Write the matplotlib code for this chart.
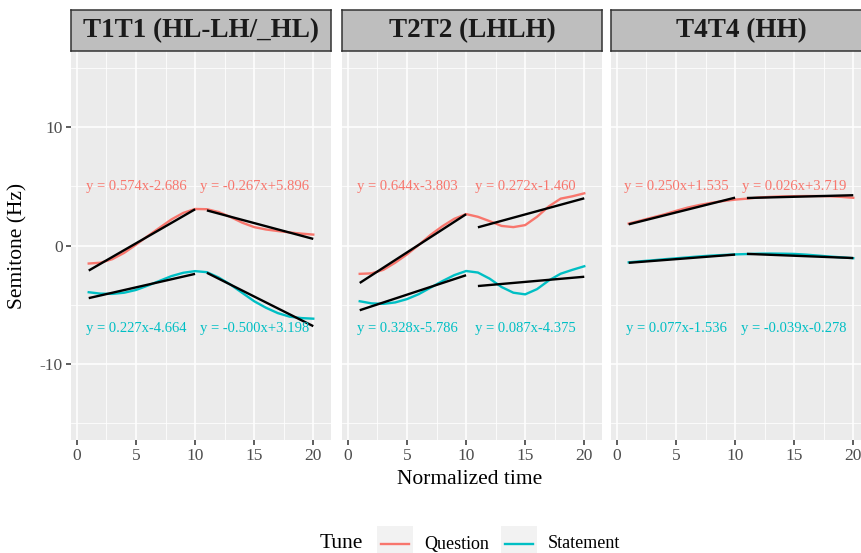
import numpy as np
import matplotlib
matplotlib.use("Agg")
import matplotlib.pyplot as plt
from matplotlib.patches import Rectangle
from matplotlib.lines import Line2D

plt.rcParams['font.family'] = ['Liberation Serif', 'DejaVu Serif']
plt.rcParams['axes.unicode_minus'] = False

# dati
panel_titles = ['T1T1 (HL-LH/_HL)', 'T2T2 (LHLH)', 'T4T4 (HH)']
time = np.arange(1, 21)

question_t1 = [-1.52, -1.45, -1.15, -0.62, 0.07, 0.80, 1.50, 2.20, 2.75, 3.08,
               3.06, 2.82, 2.40, 1.92, 1.55, 1.35, 1.22, 1.10, 1.00, 0.92]
statement_t1 = [-3.94, -4.06, -4.08, -3.98, -3.75, -3.38, -2.98, -2.58, -2.30, -2.16,
                -2.25, -2.70, -3.30, -4.00, -4.70, -5.25, -5.70, -6.00, -6.12, -6.17]
question_t2 = [-2.39, -2.35, -2.05, -1.45, -0.75, 0.05, 0.90, 1.63, 2.25, 2.65,
               2.42, 2.05, 1.65, 1.55, 1.72, 2.42, 3.30, 3.95, 4.15, 4.40]
statement_t2 = [-4.70, -4.88, -4.92, -4.80, -4.52, -4.10, -3.55, -3.00, -2.50, -2.15,
                -2.28, -2.80, -3.50, -3.98, -4.12, -3.68, -2.95, -2.38, -2.05, -1.75]
question_t4 = [1.85, 2.10, 2.36, 2.62, 2.92, 3.20, 3.42, 3.60, 3.75, 3.87,
               3.95, 4.05, 4.10, 4.14, 4.16, 4.17, 4.17, 4.15, 4.10, 4.02]
statement_t4 = [-1.42, -1.33, -1.25, -1.16, -1.08, -1.00, -0.92, -0.85, -0.80, -0.75,
                -0.72, -0.69, -0.68, -0.69, -0.71, -0.77, -0.85, -0.93, -1.00, -1.07]

question_curves = [question_t1, question_t2, question_t4]
statement_curves = [statement_t1, statement_t2, statement_t4]

# coefficienti (pendenza, intercetta) per i due segmenti
question_fit = [[(0.574, -2.686), (-0.267, 5.896)],
                [(0.644, -3.803), (0.272, -1.460)],
                [(0.250, 1.535), (0.026, 3.719)]]
statement_fit = [[(0.227, -4.664), (-0.500, 3.198)],
                 [(0.328, -5.786), (0.087, -4.375)],
                 [(0.077, -1.536), (-0.039, -0.278)]]
segments = [(1, 10), (11, 20)]
label_x = [5, 15]
question_label_y = 5
statement_label_y = -7

RED = '#F8766D'
CYAN = '#00BFC4'
LW = 1.7

W, H = 861, 553
fig = plt.figure(figsize=(W / 100, H / 100), dpi=100)

panel_left = [71, 342, 611]
panel_w = 260
top, bottom = 51, 440

for i in range(3):
    ax = fig.add_axes([panel_left[i] / W, 1 - bottom / H, panel_w / W, (bottom - top) / H])
    ax.set_facecolor('#EBEBEB')
    for s in ax.spines.values():
        s.set_visible(False)
    ax.set_xlim(-0.5, 21.5)
    ax.set_ylim(-16.4, 16.4)
    ax.set_xticks([0, 5, 10, 15, 20])
    ax.set_xticks([2.5, 7.5, 12.5, 17.5], minor=True)
    ax.set_yticks([-10, 0, 10])
    ax.set_yticks([-15, -5, 5, 15], minor=True)
    ax.grid(True, which='major', color='white', linewidth=1.1)
    ax.grid(True, which='minor', color='white', linewidth=0.55)
    ax.set_axisbelow(True)
    ax.tick_params(which='major', length=3.8, width=1.1, color='#333333',
                   labelcolor='#4D4D4D', labelsize=12.5, pad=2)
    ax.tick_params(which='minor', length=0)
    if i > 0:
        ax.tick_params(axis='y', left=False, labelleft=False)

    ax.plot(time, question_curves[i], color=RED, linewidth=LW, solid_joinstyle='round')
    ax.plot(time, statement_curves[i], color=CYAN, linewidth=LW, solid_joinstyle='round')

    for fits, ly, col in [(question_fit[i], question_label_y, RED),
                          (statement_fit[i], statement_label_y, CYAN)]:
        for (a, b), (x0, x1), lx in zip(fits, segments, label_x):
            xs = np.array([x0, x1])
            ax.plot(xs, a * xs + b, color='black', linewidth=LW, solid_capstyle='butt')
            ax.text(lx, ly, f'y = {a:.3f}x{b:+.3f}', color=col, fontsize=10.5,
                    ha='center', va='center')

    # strip del pannello
    sax = fig.add_axes([panel_left[i] / W, 1 - 51 / H, panel_w / W, 41 / H])
    sax.set_facecolor('#BEBEBE')
    sax.set_xticks([])
    sax.set_yticks([])
    for s in sax.spines.values():
        s.set_color('#333333')
        s.set_linewidth(1.1)
    sax.text(0.5, 0.5, panel_titles[i], transform=sax.transAxes, ha='center', va='center',
             fontsize=19.5, fontweight='bold', color='#1A1A1A')

fig.text(18 / W, 1 - 246 / H, 'Semitone (Hz)', rotation=90, ha='center', va='center',
         fontsize=15.5)
fig.text(470 / W, 1 - 480 / H, 'Normalized time', ha='center', va='center', fontsize=15.5)

# legenda
ly = 1 - 544 / H
fig.text(320 / W, ly, 'Tune', ha='left', va='center', fontsize=15.5)
for x0, col, lab in [(377, RED, 'Question'), (501, CYAN, 'Statement')]:
    fig.patches.append(Rectangle((x0 / W, 1 - 561 / H), 36 / W, 35 / H,
                                 transform=fig.transFigure, facecolor='#F2F2F2',
                                 edgecolor='none'))
    fig.lines.append(Line2D([(x0 + 4) / W, (x0 + 32) / W], [ly, ly], transform=fig.transFigure,
                            color=col, linewidth=LW))
    fig.text((x0 + 47) / W, ly, lab, ha='left', va='center', fontsize=13)

fig.savefig('out.png', dpi=100)
